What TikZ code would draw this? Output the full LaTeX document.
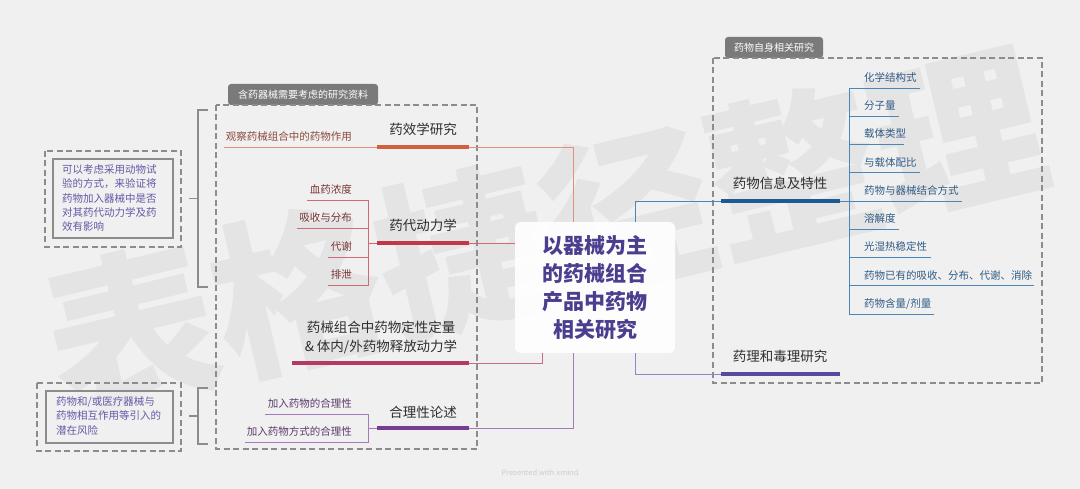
\documentclass[tikz,border=0pt]{standalone}
\usepackage{fontspec}
\setmainfont{Noto Sans CJK SC}
\newfontfamily\latinsans{Noto Sans}
\usetikzlibrary{calc}
\definecolor{bg}{HTML}{F0F0F0}
\definecolor{wm}{HTML}{E4E4E4}
\definecolor{boxgray}{HTML}{8C8C8C}
\definecolor{tabgray}{HTML}{7A7A7A}
\definecolor{maintext}{HTML}{2E2E2E}
\definecolor{centertext}{HTML}{4B3E8E}
\definecolor{notetext}{HTML}{6658A6}
\definecolor{xiaoT}{HTML}{D2603E}
\definecolor{xiaoL}{HTML}{E2907A}
\definecolor{xiaoC}{HTML}{8B4A3C}
\definecolor{daiT}{HTML}{C4374A}
\definecolor{daiL}{HTML}{D06A78}
\definecolor{daiC}{HTML}{7A3535}
\definecolor{zuT}{HTML}{B33A66}
\definecolor{zuL}{HTML}{C86A8C}
\definecolor{heT}{HTML}{763E8E}
\definecolor{heL}{HTML}{A47AB8}
\definecolor{heC}{HTML}{5D3A6E}
\definecolor{infoT}{HTML}{1D5A93}
\definecolor{infoL}{HTML}{4A86B8}
\definecolor{infoC}{HTML}{2F5A85}
\definecolor{toxT}{HTML}{5A4A9E}
\definecolor{toxL}{HTML}{9088C4}
\begin{document}
\begin{tikzpicture}[x=1pt,y=-1pt,
  mainlbl/.style={font=\fontsize{13.5}{16}\selectfont, text=maintext, inner sep=0pt, anchor=base},
  sublbl/.style={font=\fontsize{10.5}{13}\selectfont, inner sep=0pt},
  thickln/.style={line width=3.8pt},
  thinln/.style={line width=0.9pt},
  grp/.style={draw=boxgray, line width=1.3pt, dash pattern=on 6pt off 3.5pt},
  tabbox/.style={fill=tabgray, text=white, rounded corners=3pt, inner sep=0pt,
    font=\fontsize{10}{12}\selectfont},
  notetxt/.style={font=\fontsize{10.5}{14.3}\selectfont, text=notetext, align=left, inner sep=0pt, anchor=north west},
  notebox/.style={draw=boxgray, line width=1.5pt, fill=bg, fill opacity=0.7, draw opacity=1},
  bracket/.style={draw=boxgray, line width=1.3pt}
]
\fill[bg] (0,0) rectangle (1080,489);
\useasboundingbox (0,0) rectangle (1080,489);

% watermark
\node[rotate=13.5, text=wm, font=\bfseries\fontsize{170}{170}\selectfont, inner sep=0pt] (wmark) at (545,232) {表格捷径整理};

% ---------- group boxes ----------
\node[tabbox, minimum width=150pt, minimum height=21pt] (tab1) at (303,94.5) {含药器械需要考虑的研究资料};
\draw[grp] (216,105) rectangle (477,449);
\node[tabbox, minimum width=98pt, minimum height=21pt] (tab2) at (774,47.5) {药物自身相关研究};
\draw[grp] (713,58) rectangle (1042,383);

% ---------- center ----------
\node[fill=white, fill opacity=0.9, text opacity=1, rounded corners=6pt, minimum width=160pt, minimum height=131pt,
  align=center, text=centertext, font=\bfseries\fontsize{21}{28}\selectfont, inner sep=0pt] (center) at (595,287.5)
  {以器械为主\\的药械组合\\产品中药物\\相关研究};
\coordinate (cin1) at ([xshift=59pt]center.north west);
\coordinate (cin3) at ([xshift=28pt]center.south west);
\coordinate (cin4) at ([xshift=59pt]center.south west);
\coordinate (cin5) at ([xshift=121pt]center.north west);
\coordinate (cin6) at ([xshift=121pt]center.south west);

% ---------- 药效学研究 ----------
\node[mainlbl] (xiao) at (423,135) {药效学研究};
\coordinate (xiaoA) at (377,147);
\coordinate (xiaoB) at (469,147);
\node[sublbl, text=xiaoC, anchor=base east] (xiaoc) at (352,140.5) {观察药械组合中的药物作用};
\coordinate (xiaocA) at (224,147);
\draw[thinln, xiaoL] (xiaocA) -- (xiaoA);
\draw[thinln, xiaoL] (xiaoB) -| (cin1);
\draw[thickln, xiaoT] (xiaoA) -- (xiaoB);

% ---------- 药代动力学 ----------
\node[mainlbl] (dai) at (423,231) {药代动力学};
\coordinate (daiA) at (377,243);
\coordinate (daiB) at (469,243);
\coordinate (daiV) at (368,243);
\node[sublbl, text=daiC, anchor=base east] (d1) at (352,193.5) {血药浓度};
\node[sublbl, text=daiC, anchor=base east] (d2) at (352,221.5) {吸收与分布};
\node[sublbl, text=daiC, anchor=base east] (d3) at (352,250.5) {代谢};
\node[sublbl, text=daiC, anchor=base east] (d4) at (352,278.5) {排泄};
\coordinate (d1a) at (307,200); \coordinate (d1b) at (368,200);
\coordinate (d2a) at (297,228); \coordinate (d2b) at (368,228);
\coordinate (d3a) at (328,257); \coordinate (d3b) at (368,257);
\coordinate (d4a) at (328,285); \coordinate (d4b) at (368,285);
\draw[thinln, daiL] (d1a) -- (d1b) -- (d4b) -- (d4a);
\draw[thinln, daiL] (d2a) -- (d2b);
\draw[thinln, daiL] (d3a) -- (d3b);
\draw[thinln, daiL] (daiV) -- (daiA);
\draw[thinln, daiL] (daiB) -- (daiB -| center.west);
\draw[thickln, daiT] (daiA) -- (daiB);

% ---------- 药械组合中药物定性定量 ----------
\node[font=\fontsize{13.5}{19}\selectfont, text=maintext, align=center, inner sep=0pt] (zu) at (381,337)
  {药械组合中药物定性定量\\\& 体内/外药物释放动力学};
\coordinate (zuA) at (292,363);
\coordinate (zuB) at (469,363);
\draw[thinln, zuL] (zuB) -| (cin3);
\draw[thickln, zuT] (zuA) -- (zuB);

% ---------- 合理性论述 ----------
\node[mainlbl] (he) at (423,417) {合理性论述};
\coordinate (heA) at (377,428);
\coordinate (heB) at (469,428);
\coordinate (heV) at (368,428);
\node[sublbl, text=heC, anchor=base east] (h1) at (352,407.5) {加入药物的合理性};
\node[sublbl, text=heC, anchor=base east] (h2) at (352,435.5) {加入药物方式的合理性};
\coordinate (h1a) at (265,414); \coordinate (h1b) at (368,414);
\coordinate (h2a) at (245,442); \coordinate (h2b) at (368,442);
\draw[thinln, heL] (h1a) -- (h1b) -- (h2b) -- (h2a);
\draw[thinln, heL] (heV) -- (heA);
\draw[thinln, heL] (heB) -| (cin4);
\draw[thickln, heT] (heA) -- (heB);

% ---------- 药物信息及特性 ----------
\node[mainlbl] (info) at (780,189) {药物信息及特性};
\coordinate (infoA) at (721,201);
\coordinate (infoB) at (840,201);
\coordinate (infoV) at (849,201);
\draw[thinln, infoL] (cin5) |- (infoA);
\draw[thinln, infoL] (infoB) -- (infoV);
\draw[thickln, infoT] (infoA) -- (infoB);
\coordinate (vtop) at (849,88);
\coordinate (vbot) at (849,314);
\draw[thinln, infoL] (vtop) -- (vbot);
\foreach \t/\e/\y [count=\i] in {
  {化学结构式}/920/88, {分子量}/899/116.25, {载体类型}/904/144.5, {与载体配比}/920/172.75,
  {药物与器械结合方式}/962/201, {溶解度}/899/229.25, {光湿热稳定性}/931/257.5,
  {药物已有的吸收、分布、代谢、消除}/1034/285.75, {药物含量/剂量}/934/314} {
  \node[sublbl, text=infoC, anchor=base west] (r\i) at (864,\y-6.5) {\t};
  \coordinate (r\i a) at (849,\y);
  \coordinate (r\i b) at (\e,\y);
  \draw[thinln, infoL] (r\i a) -- (r\i b);
}

% ---------- 药理和毒理研究 ----------
\node[mainlbl] (tox) at (780,362) {药理和毒理研究};
\coordinate (toxA) at (721,374);
\coordinate (toxB) at (840,374);
\draw[thinln, toxL] (cin6) |- (toxA);
\draw[thickln, toxT] (toxA) -- (toxB);

% ---------- notes ----------
\draw[grp] (45,151) rectangle (181,247);
\draw[notebox] (53,159) rectangle (173,238);
\node[notetxt] (n1) at (62,164.5) {可以考虑采用动物试\\验的方式，来验证将\\药物加入器械中是否\\对其药代动力学及药\\效有影响};
\coordinate (b1t) at (198,110); \coordinate (b1b) at (198,287); \coordinate (b1m) at (198,198.5);
\coordinate (b1tr) at (208,110); \coordinate (b1br) at (208,287); \coordinate (b1ml) at (189,198.5);
\draw[bracket] (b1tr) -- (b1t) -- (b1b) -- (b1br);
\draw[bracket] (b1ml) -- (b1m);

\draw[grp] (37,383) rectangle (181,451);
\draw[notebox] (46,391) rectangle (173,443);
\node[notetxt] (n2) at (56,396.5) {药物和/或医疗器械与\\药物相互作用等引入的\\潜在风险};
\coordinate (b2t) at (198,388); \coordinate (b2b) at (198,444); \coordinate (b2m) at (198,416);
\coordinate (b2tr) at (208,388); \coordinate (b2br) at (208,444); \coordinate (b2ml) at (189,416);
\draw[bracket] (b2tr) -- (b2t) -- (b2b) -- (b2br);
\draw[bracket] (b2ml) -- (b2m);

% footer
\node[font=\latinsans\fontsize{7.5}{9}\selectfont, text=black!20, inner sep=0pt] (foot) at (540,473) {Presented with \textbf{xmind}};
\end{tikzpicture}
\end{document}
